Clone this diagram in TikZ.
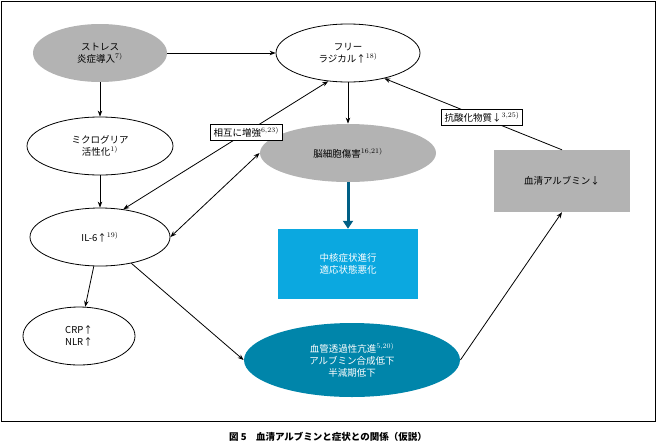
\documentclass[tikz,border=0pt]{standalone}
\usepackage{fontspec}
\setmainfont{Noto Sans CJK JP}
\usetikzlibrary{arrows.meta,shapes.geometric}
\definecolor{softgray}{HTML}{B3B3B3}
\definecolor{skyblue}{HTML}{0BA8E0}
\definecolor{tealblue}{HTML}{0085AA}
\definecolor{darkteal}{HTML}{005F85}
\begin{document}
\begin{tikzpicture}
[x=1pt,y=-1pt,font=\fontsize{9.5}{12}\selectfont,
  ovaldecorate/.style={shape=ellipse,draw,thick,align=center,inner sep=0pt},
  boxdecorate/.style={shape=rectangle,draw,thick,fill=white,inner sep=3pt},
  linedecorate/.style={-{Stealth[length=6pt]},thick}]
\useasboundingbox (0,0) rectangle (656,445);
\draw[thick] (1,1) rectangle (655,421);
%%% ellipses
% nodes
\node (stress) at (100,53) [ovaldecorate,draw=none,fill=softgray,minimum width=134,minimum height=58] {ストレス\\炎症導入$^{7)}$};
\node (radical) at (348,53) [ovaldecorate,minimum width=144,minimum height=58] {フリー\\ラジカル↑$^{18)}$};
\node (glia) at (100,146) [ovaldecorate,minimum width=146,minimum height=58] {ミクログリア\\活性化$^{1)}$};
\node (il6) at (100,237) [ovaldecorate,minimum width=140,minimum height=58] {IL-6↑$^{19)}$};
\node (crp) at (79,336) [ovaldecorate,minimum width=112,minimum height=58] {CRP↑\\NLR↑};
\node (damage) at (348,153) [ovaldecorate,draw=none,fill=softgray,minimum width=176,minimum height=58] {脳細胞傷害$^{16,21)}$};
\node (vessel) at (352,360) [ovaldecorate,draw=none,fill=tealblue,text=white,minimum width=216,minimum height=74] {血管透過性亢進$^{5,20)}$\\アルブミン合成低下\\半減期低下};
%%% boxes
\node (core) at (348,264) [shape=rectangle,fill=skyblue,text=white,align=center,minimum width=140,minimum height=70] {中核症状進行\\適応状態悪化};
\node (albumin) at (562,181) [shape=rectangle,fill=softgray,minimum width=136,minimum height=62] {血清アルブミン↓};
% edges
\draw[linedecorate] (stress) -- (radical);
\draw[linedecorate] (stress) -- (glia);
\draw[linedecorate] (glia) -- (il6);
\draw[linedecorate] (il6) -- (crp);
\draw[linedecorate,{Stealth[length=6pt]}-{Stealth[length=6pt]}] (il6.east) -- (damage.west);
\draw[linedecorate] (il6.-40) -- (vessel.west);
\draw[linedecorate] (vessel.east) -- (albumin.south);
\draw[linedecorate] (radical) -- (damage);
\draw[line width=3pt,darkteal,-{Triangle[length=8pt,width=10pt]}] (damage) -- (core);
\draw[linedecorate,{Stealth[length=6pt]}-{Stealth[length=6pt]}] (il6.50) -- node[boxdecorate,pos=0.6] {相互に増強$^{6,23)}$} (radical.-125);
\draw[linedecorate] (albumin.north) -- node[boxdecorate,pos=0.45] {抗酸化物質↓$^{3,25)}$} (radical.-35);
%%% caption
\node (caption) at (328,437) {\bfseries 図 5\quad 血清アルブミンと症状との関係（仮説）};
\end{tikzpicture}
\end{document}
